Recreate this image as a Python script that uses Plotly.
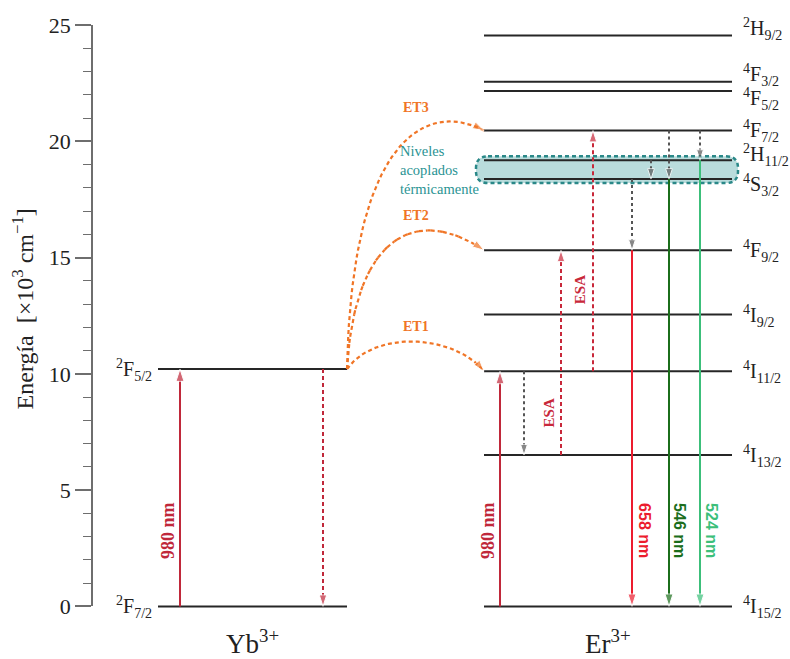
import plotly.graph_objects as go

# ---------------- data ----------------
yb_names = ["2F7/2", "2F5/2"]
yb_energy = [0.0, 10.21]

er_names = ["4I15/2", "4I13/2", "4I11/2", "4I9/2", "4F9/2", "4S3/2",
            "2H11/2", "4F7/2", "4F5/2", "4F3/2", "2H9/2"]
er_energy = [0.0, 6.51, 10.11, 12.55, 15.32, 18.38, 19.19, 20.47, 22.17, 22.57, 24.56]

# transitions: column, start level, end level, kind
tr_x = [180, 323, 500, 524, 561, 593, 632, 651, 669, 700, 632, 669, 700]
tr_from = ["2F7/2", "2F5/2", "4I15/2", "4I11/2", "4I13/2", "4I11/2",
           "4S3/2", "2H11/2", "4F7/2", "4F7/2", "4F9/2", "4S3/2", "2H11/2"]
tr_to = ["2F5/2", "2F7/2", "4I11/2", "4I13/2", "4F9/2", "4F7/2",
         "4F9/2", "4S3/2", "4S3/2", "2H11/2", "4I15/2", "4I15/2", "4I15/2"]
tr_kind = ["pump", "pumpdash", "pump", "relax", "esa", "esa",
           "relax", "relax", "relax", "relax", "em658", "em546", "em524"]

# arrow labels
lbl_text = ["980 nm", "980 nm", "ESA", "ESA", "658 nm", "546 nm", "524 nm"]
lbl_kind = ["pump", "pump", "esa", "esa", "em658", "em546", "em524"]
lbl_x = [168, 488, 549, 580, 645, 680, 712]
lbl_E = [3.24, 3.24, 8.3, 13.6, 3.28, 3.28, 3.28]

# energy transfer Yb -> Er
et_names = ["ET1", "ET2", "ET3"]
et_target = ["4I11/2", "4F9/2", "4F7/2"]
et_label_E = [12.05, 16.83, 21.47]

ions = ["Yb<sup>3+</sup>", "Er<sup>3+</sup>"]
y_ticks = [0, 5, 10, 15, 20, 25]

# ---------------- geometry / styles ----------------
W, H = 790, 659
ML, MT, MB = 93, 10, 9
PX0, PX25 = 610.0, 23.3           # pixel rows of E=0 and E=25
PPU = (PX0 - PX25) / 25.0         # pixels per energy unit
plot_top, plot_bot = MT, H - MB
lo = -(plot_bot - PX0) / PPU
hi = 25 + (PX25 - plot_top) / PPU
d0 = (plot_bot - PX0) / (plot_bot - plot_top)
d1 = (plot_bot - PX25) / (plot_bot - plot_top)

YB_X = (158, 347)
ER_X = (484, 732)
SERIF = "Liberation Serif, Times New Roman, serif"
SANS = "Liberation Sans, Arial, sans-serif"

style = {
    "pump": dict(color="#c0283a", dash="solid", width=2),
    "pumpdash": dict(color="#c0283a", dash="4px,3px", width=2),
    "esa": dict(color="#c8283a", dash="4px,3px", width=2),
    "relax": dict(color="#555555", dash="3px,3px", width=2),
    "em658": dict(color="#ec1c2e", dash="solid", width=2),
    "em546": dict(color="#1b6e1b", dash="solid", width=2),
    "em524": dict(color="#3cbf7a", dash="solid", width=2),
}
head = {"pump": 13, "pumpdash": 12, "esa": 12, "relax": 11,
        "em658": 13, "em546": 13, "em524": 13}
ORANGE = "#f07526"
TEAL = "#2a9393"

energy = dict(zip(yb_names + er_names, yb_energy + er_energy))


def lab(name):
    return f"<sup>{name[0]}</sup>{name[1]}<sub>{name[2:]}</sub>"


def dE(px):
    return -px / PPU


fig = go.Figure()
# dummy trace so the visible axis subplot exists
fig.add_trace(go.Scatter(x=[], y=[], xaxis="x", yaxis="y", showlegend=False))

# shapes: thermally coupled box
pad = 4 / PPU
r_x, r_y = 12, 12 / PPU
bx0, bx1 = ER_X[0] - 8, ER_X[1] + 6
by0 = energy["4S3/2"] - pad
by1 = energy["2H11/2"] + pad
path = (f"M{bx0 + r_x},{by1} L{bx1 - r_x},{by1} Q{bx1},{by1} {bx1},{by1 - r_y} "
        f"L{bx1},{by0 + r_y} Q{bx1},{by0} {bx1 - r_x},{by0} "
        f"L{bx0 + r_x},{by0} Q{bx0},{by0} {bx0},{by0 + r_y} "
        f"L{bx0},{by1 - r_y} Q{bx0},{by1} {bx0 + r_x},{by1} Z")
fig.add_shape(type="path", path=path, xref="x", yref="y2", layer="below",
              fillcolor="#b9dcdc", line=dict(color="#2a8888", width=2.5, dash="4px,3px"))

# levels
for e in yb_energy:
    fig.add_trace(go.Scatter(x=list(YB_X), y=[e, e], xaxis="x", yaxis="y2", mode="lines",
                             line=dict(color="#262626", width=2), showlegend=False, hoverinfo="skip"))
for e in er_energy:
    fig.add_trace(go.Scatter(x=list(ER_X), y=[e, e], xaxis="x", yaxis="y2", mode="lines",
                             line=dict(color="#262626", width=2), showlegend=False, hoverinfo="skip"))

# transitions
for x, a, b, k in zip(tr_x, tr_from, tr_to, tr_kind):
    st = style[k]
    fig.add_trace(go.Scatter(
        x=[x, x], y=[energy[a], energy[b]], xaxis="x", yaxis="y2", mode="lines+markers",
        line=dict(color=st["color"], width=st["width"], dash=st["dash"]),
        marker=dict(symbol="arrow", size=[0, head[k]], angleref="previous", color=st["color"]),
        showlegend=False, hoverinfo="skip"))

# energy-transfer curves (cubic Bezier)
ctrl = {"ET1": ((28, -40), (-29, -37)),
        "ET2": ((8, -140), (-64, -44)),
        "ET3": ((5, -240), (-54, -29))}
for nm, tgt in zip(et_names, et_target):
    p0 = (YB_X[1], energy["2F5/2"])
    p3 = (ER_X[0], energy[tgt])
    (c1x, c1y), (c2x, c2y) = ctrl[nm]
    c1 = (p0[0] + c1x, p0[1] + dE(c1y))
    c2 = (p3[0] + c2x, p3[1] + dE(c2y))
    n = 60
    xs, ys = [], []
    for i in range(n + 1):
        t = i / n
        u = 1 - t
        xs.append(u**3 * p0[0] + 3 * u * u * t * c1[0] + 3 * u * t * t * c2[0] + t**3 * p3[0])
        ys.append(u**3 * p0[1] + 3 * u * u * t * c1[1] + 3 * u * t * t * c2[1] + t**3 * p3[1])
    sizes = [0] * n + [12]
    fig.add_trace(go.Scatter(
        x=xs, y=ys, xaxis="x", yaxis="y2", mode="lines+markers",
        line=dict(color=ORANGE, width=2.2, dash="4px,3px"),
        marker=dict(symbol="arrow", size=sizes, angleref="previous", color=ORANGE),
        showlegend=False, hoverinfo="skip"))

ann = []
# level labels
for nm, e in zip(yb_names, yb_energy):
    ann.append(dict(x=YB_X[0] - 4, y=e, xref="x", yref="y2", text=lab(nm), showarrow=False,
                    xanchor="right", yanchor="middle", yshift=-1,
                    font=dict(family=SERIF, size=20, color="#222")))
shift = {"2H9/2": 7, "4F3/2": 8, "4F5/2": -7, "2H11/2": 6, "4S3/2": -5}
for nm, e in zip(er_names, er_energy):
    ann.append(dict(x=ER_X[1] + 9, y=e, xref="x", yref="y2", text=lab(nm), showarrow=False,
                    xanchor="left", yanchor="middle", yshift=shift.get(nm, 0) - 1,
                    font=dict(family=SERIF, size=20, color="#222")))

# arrow labels
for t, k, x, e in zip(lbl_text, lbl_kind, lbl_x, lbl_E):
    if k.startswith("em"):
        ann.append(dict(x=x, y=e, xref="x", yref="y2", text=f"<b>{t}</b>", showarrow=False,
                        textangle=90, font=dict(family=SANS, size=16, color=style[k]["color"])))
    else:
        ann.append(dict(x=x, y=e, xref="x", yref="y2", text=f"<b>{t}</b>", showarrow=False,
                        textangle=-90,
                        font=dict(family=SERIF, size=18 if k == "pump" else 15,
                                  color=style[k]["color"])))

# ET labels
for nm, e in zip(et_names, et_label_E):
    ann.append(dict(x=416, y=e, xref="x", yref="y2", text=f"<b>{nm}</b>", showarrow=False,
                    font=dict(family=SERIF, size=14, color=ORANGE)))

# thermally coupled text
ann.append(dict(x=398, y=energy["4S3/2"] + 0.37, xref="x", yref="y2",
                text="Niveles<br>acoplados<br>térmicamente", showarrow=False,
                xanchor="left", yanchor="middle", align="left",
                font=dict(family=SERIF, size=14.5, color=TEAL)))

# ion labels
for t, x in zip(ions, [(YB_X[0] + YB_X[1]) / 2, (ER_X[0] + ER_X[1]) / 2]):
    ann.append(dict(x=x, y=dE(36), xref="x", yref="y2", text=t, showarrow=False,
                    yanchor="middle", font=dict(family=SERIF, size=27, color="#222")))

# y-axis title
ann.append(dict(x=(23 - ML) / (W - ML), y=(d0 + d1) / 2 + 0.01, xref="paper", yref="paper",
                text="Energía  [×10<sup>3</sup> cm<sup>−1</sup>]", showarrow=False,
                textangle=-90, xanchor="center", yanchor="middle",
                font=dict(family=SERIF, size=24, color="#222")))

fig.update_layout(
    width=W, height=H, margin=dict(l=ML, r=0, t=MT, b=MB),
    paper_bgcolor="white", plot_bgcolor="white",
    annotations=ann,
    xaxis=dict(range=[ML, W], visible=False, domain=[0, 1]),
    yaxis=dict(domain=[d0, d1], range=[0, 25], anchor="x",
               showline=True, linecolor="#6e6e6e", linewidth=1.5,
               ticks="outside", ticklen=16, tickwidth=1.5, tickcolor="#6e6e6e",
               tickvals=y_ticks, showgrid=False, zeroline=False,
               tickfont=dict(family=SERIF, size=22, color="#222"),
               minor=dict(ticks="outside", ticklen=8, dtick=1, tickwidth=1.2,
                          tickcolor="#6e6e6e", showgrid=False)),
    yaxis2=dict(domain=[0, 1], range=[lo, hi], anchor="x", visible=False),
    showlegend=False,
)

fig.write_html("out.html")
